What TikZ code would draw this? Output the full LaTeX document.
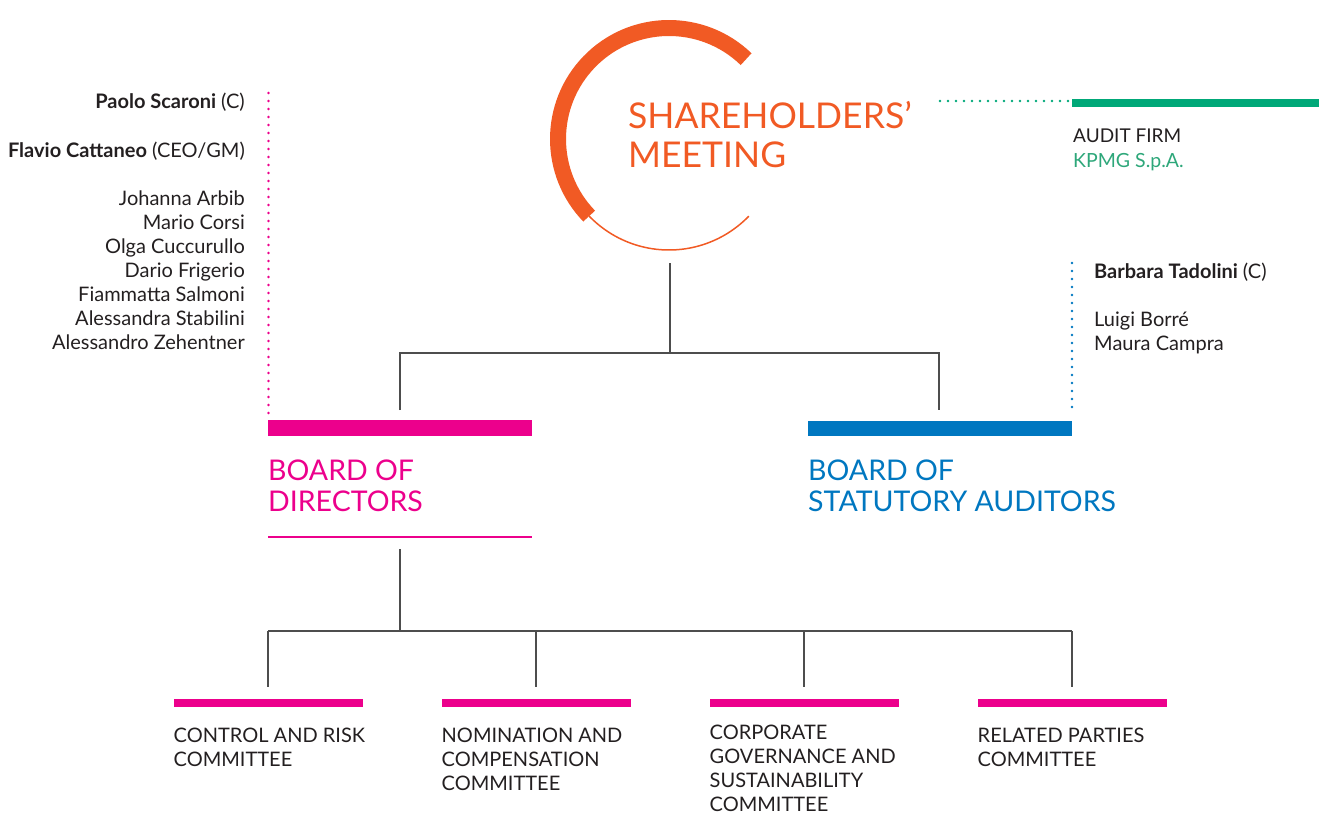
\documentclass[tikz,border=0pt]{standalone}
\usepackage{fontspec}
\setmainfont{Lato}
\definecolor{eniorange}{HTML}{F15A24}
\definecolor{enimagenta}{HTML}{EC008C}
\definecolor{eniblue}{HTML}{0077C0}
\definecolor{enigreen}{HTML}{00A878}
\definecolor{kpmggreen}{HTML}{2EA77A}
\definecolor{inkgray}{HTML}{231F20}
\definecolor{linkgray}{HTML}{4D4D4D}
\tikzset{
  link/.style={draw=linkgray, line width=1.2pt},
  dotline/.style={line width=2.6pt, line cap=round, dash pattern=on 0pt off 8pt},
  member/.style={inner sep=0pt, text=inkgray, font=\fontsize{20}{24}\selectfont},
  boardtitle/.style={inner sep=0pt, anchor=base west, align=left, font=\fontsize{28.5}{31}\selectfont},
  committee/.style={inner sep=0pt, anchor=base west, align=left, text=inkgray, font=\fontsize{20}{24}\selectfont}
}
\begin{document}
\begin{tikzpicture}[x=1pt,y=-1pt]
\useasboundingbox (0,0) rectangle (1319,814);

% shareholders' meeting (base anchor = last line)
\draw[eniorange, line width=16pt] (669,139) ++(-46:111) arc[start angle=-46, end angle=-224, radius=111];
\draw[eniorange, line width=1.5pt] (669,139) ++(-224:111) arc[start angle=-224, end angle=-316, radius=111];
\node[inner sep=0pt, anchor=base west, align=left, text=eniorange, font=\fontsize{35.5}{39}\selectfont]
  (sm) at (628,167) {SHAREHOLDERS’\\MEETING};

% audit firm
\draw[enigreen, dotline] (940,101) -- (1068,101);
\draw[enigreen, line width=7.5pt] (1072,103) -- (1319,103);
\node[member, anchor=base west, font=\fontsize{19}{24}\selectfont] (audit) at (1073,142) {AUDIT FIRM};
\node[member, anchor=base west, text=kpmggreen, font=\fontsize{19.5}{24}\selectfont] (kpmg) at (1073,167) {KPMG S.p.A.};

% links below the meeting
\coordinate (smfoot) at (670,263);
\coordinate (smfork) at (670,353);
\coordinate (bodtop) at (400,410);
\coordinate (bsatop) at (939,410);
\draw[link] (smfoot) -- (smfork);
\draw[link] (bodtop) |- (smfork) -| (bsatop);

% board of directors
\draw[enimagenta, dotline] (268.5,93) -- (268.5,414);
\fill[enimagenta] (268,420) rectangle (532,436);
\node[boardtitle, text=enimagenta] (bod) at (268,511) {BOARD OF\\DIRECTORS};
\draw[enimagenta, line width=1.5pt] (268,537) -- (532,537);
\node[member, anchor=base east] (chair) at (245,108) {\textbf{Paolo Scaroni} (C)};
\node[member, anchor=base east] (ceo) at (245,157) {\textbf{Flavio Cattaneo} (CEO/GM)};
\foreach \i/\name in {0/Johanna Arbib, 1/Mario Corsi, 2/Olga Cuccurullo, 3/Dario Frigerio,
    4/Fiammatta Salmoni, 5/Alessandra Stabilini, 6/Alessandro Zehentner}
  \node[member, anchor=base east] (dir\i) at (245,205+24*\i) {\name};

% board of statutory auditors
\draw[eniblue, dotline] (1072,263) -- (1072,414);
\fill[eniblue] (808,421) rectangle (1072,436);
\node[boardtitle, text=eniblue] (bsa) at (808,511) {BOARD OF\\STATUTORY AUDITORS};
\node[member, anchor=base west] (bsachair) at (1094,278) {\textbf{Barbara Tadolini} (C)};
\node[member, anchor=base west] (aud1) at (1094,326) {Luigi Borré};
\node[member, anchor=base west] (aud2) at (1094,350) {Maura Campra};

% committees (last baseline given)
\coordinate (bodfoot) at (400,549);
\coordinate (bodfork) at (400,631);
\draw[link] (bodfoot) -- (bodfork);
\foreach \i/\x/\y/\title in {1/268/766/{CONTROL AND RISK\\COMMITTEE},
    2/536/790/{NOMINATION AND\\COMPENSATION\\COMMITTEE},
    3/804/811/{CORPORATE\\GOVERNANCE AND\\SUSTAINABILITY\\COMMITTEE},
    4/1072/766/{RELATED PARTIES\\COMMITTEE}} {
  \coordinate (fork\i) at (\x,631);
  \coordinate (com\i top) at (\x,687);
  \draw[link] (fork\i) -- (com\i top);
  \fill[enimagenta] (\x-94.5,699) rectangle (\x+94.5,707);
  \node[committee] (com\i) at (\x-94.5,\y) {\title};
}
\draw[link] (fork1) -- (fork4);
\end{tikzpicture}
\end{document}
